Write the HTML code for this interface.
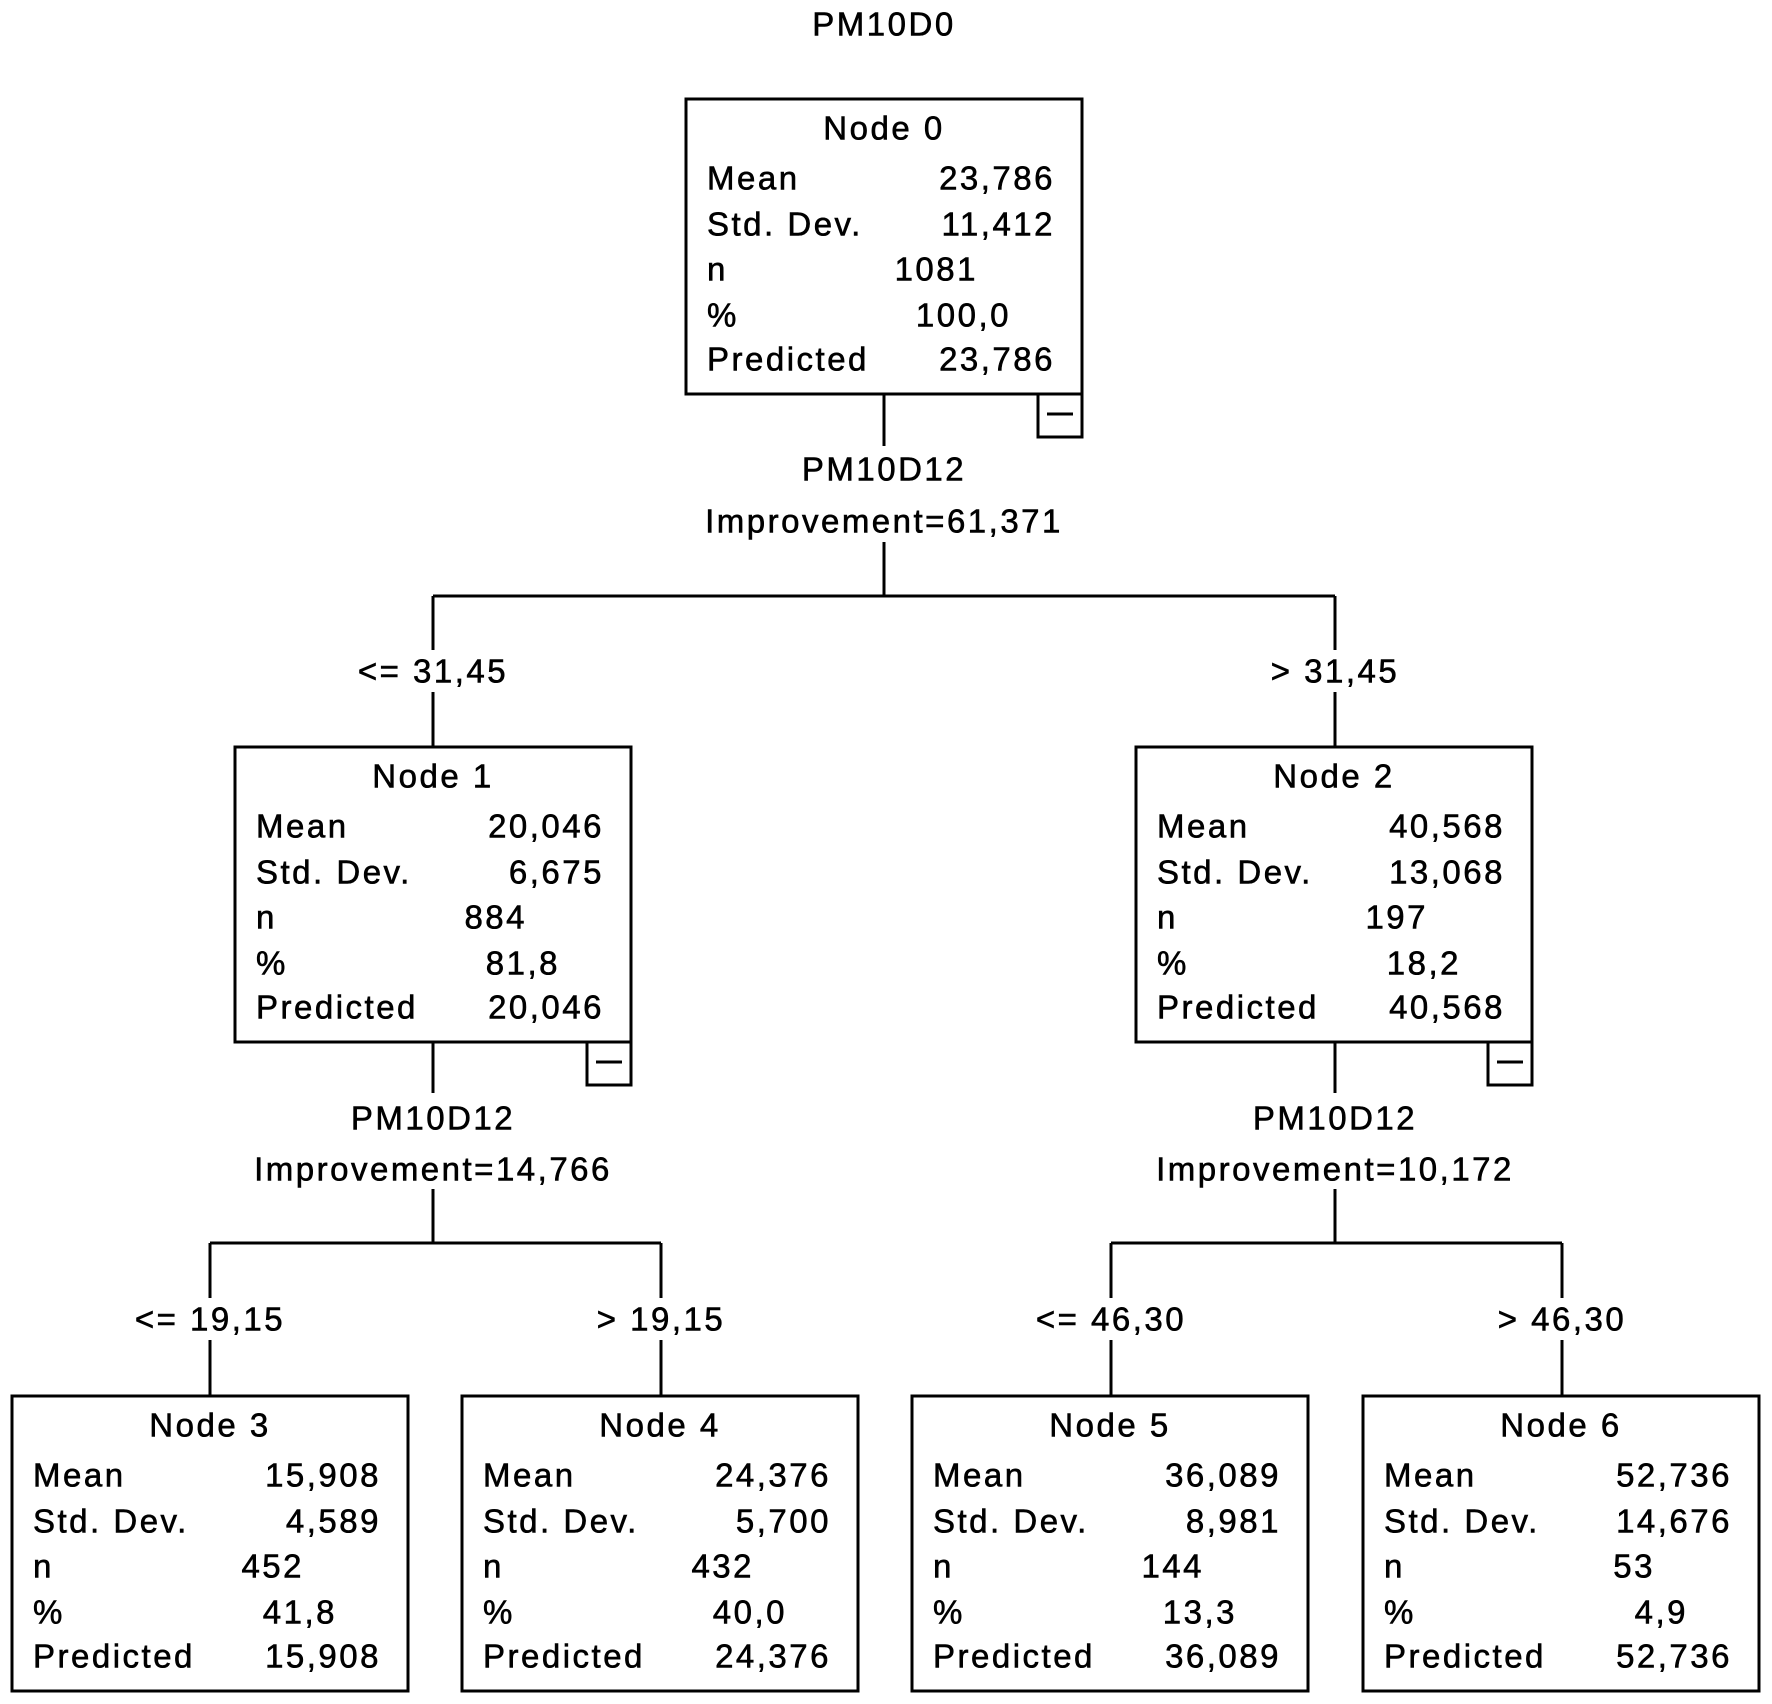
<!DOCTYPE html>
<html><head><meta charset="utf-8"><style>
html,body{margin:0;padding:0;background:#fff;}
svg{display:block;}
text{font-family:"Liberation Sans","DejaVu Sans",sans-serif;font-size:33px;fill:#000;stroke:#000;stroke-width:0.6;letter-spacing:2.5px;dominant-baseline:central;}
.c{text-anchor:middle;}
.e{text-anchor:end;}
</style></head><body>
<svg width="1772" height="1704" viewBox="0 0 1772 1704" xmlns="http://www.w3.org/2000/svg">
<g stroke="#000" stroke-width="3" fill="none">
<line x1="884" y1="394" x2="884" y2="446"/>
<line x1="884" y1="542" x2="884" y2="596"/>
<line x1="433" y1="596" x2="1335" y2="596"/>
<line x1="433" y1="596" x2="433" y2="650"/>
<line x1="1335" y1="596" x2="1335" y2="650"/>
<line x1="433" y1="692" x2="433" y2="747"/>
<line x1="1335" y1="692" x2="1335" y2="747"/>

<line x1="433" y1="1042" x2="433" y2="1093"/>
<line x1="433" y1="1189" x2="433" y2="1243"/>
<line x1="210" y1="1243" x2="661" y2="1243"/>
<line x1="210" y1="1243" x2="210" y2="1298"/>
<line x1="661" y1="1243" x2="661" y2="1298"/>
<line x1="210" y1="1340" x2="210" y2="1396"/>
<line x1="661" y1="1340" x2="661" y2="1396"/>

<line x1="1335" y1="1042" x2="1335" y2="1093"/>
<line x1="1335" y1="1189" x2="1335" y2="1243"/>
<line x1="1111" y1="1243" x2="1562" y2="1243"/>
<line x1="1111" y1="1243" x2="1111" y2="1298"/>
<line x1="1562" y1="1243" x2="1562" y2="1298"/>
<line x1="1111" y1="1340" x2="1111" y2="1396"/>
<line x1="1562" y1="1340" x2="1562" y2="1396"/>

<rect x="686" y="99" width="396" height="295"/>
<rect x="1038" y="394" width="44" height="43"/><line x1="1047" y1="414" x2="1073" y2="414"/>
<rect x="235" y="747" width="396" height="295"/>
<rect x="587" y="1042" width="44" height="43"/><line x1="596" y1="1062" x2="622" y2="1062"/>
<rect x="1136" y="747" width="396" height="295"/>
<rect x="1488" y="1042" width="44" height="43"/><line x1="1497" y1="1062" x2="1523" y2="1062"/>
<rect x="12" y="1396" width="396" height="295"/>
<rect x="462" y="1396" width="396" height="295"/>
<rect x="912" y="1396" width="396" height="295"/>
<rect x="1363" y="1396" width="396" height="295"/>
</g>

<text class="c" x="884" y="24">PM10D0</text>
<text class="c" x="884" y="469">PM10D12</text>
<text class="c" x="884" y="521">Improvement=61,371</text>
<text class="c" x="433" y="671">&lt;= 31,45</text>
<text class="c" x="1335" y="671">&gt; 31,45</text>
<text class="c" x="433" y="1118">PM10D12</text>
<text class="c" x="433" y="1169">Improvement=14,766</text>
<text class="c" x="1335" y="1118">PM10D12</text>
<text class="c" x="1335" y="1169">Improvement=10,172</text>
<text class="c" x="210" y="1319">&lt;= 19,15</text>
<text class="c" x="661" y="1319">&gt; 19,15</text>
<text class="c" x="1111" y="1319">&lt;= 46,30</text>
<text class="c" x="1562" y="1319">&gt; 46,30</text>

<g transform="translate(686,99)">
<text class="c" x="198" y="29">Node 0</text>
<text x="21" y="79">Mean</text><text class="e" x="369" y="79">23,786</text>
<text x="21" y="125">Std. Dev.</text><text class="e" x="369" y="125">11,412</text>
<text x="21" y="170">n</text><text class="e" x="292" y="170">1081</text>
<text x="21" y="216">%</text><text class="e" x="325" y="216">100,0</text>
<text x="21" y="260">Predicted</text><text class="e" x="369" y="260">23,786</text>
</g>
<g transform="translate(235,747)">
<text class="c" x="198" y="29">Node 1</text>
<text x="21" y="79">Mean</text><text class="e" x="369" y="79">20,046</text>
<text x="21" y="125">Std. Dev.</text><text class="e" x="369" y="125">6,675</text>
<text x="21" y="170">n</text><text class="e" x="292" y="170">884</text>
<text x="21" y="216">%</text><text class="e" x="325" y="216">81,8</text>
<text x="21" y="260">Predicted</text><text class="e" x="369" y="260">20,046</text>
</g>
<g transform="translate(1136,747)">
<text class="c" x="198" y="29">Node 2</text>
<text x="21" y="79">Mean</text><text class="e" x="369" y="79">40,568</text>
<text x="21" y="125">Std. Dev.</text><text class="e" x="369" y="125">13,068</text>
<text x="21" y="170">n</text><text class="e" x="292" y="170">197</text>
<text x="21" y="216">%</text><text class="e" x="325" y="216">18,2</text>
<text x="21" y="260">Predicted</text><text class="e" x="369" y="260">40,568</text>
</g>
<g transform="translate(12,1396)">
<text class="c" x="198" y="29">Node 3</text>
<text x="21" y="79">Mean</text><text class="e" x="369" y="79">15,908</text>
<text x="21" y="125">Std. Dev.</text><text class="e" x="369" y="125">4,589</text>
<text x="21" y="170">n</text><text class="e" x="292" y="170">452</text>
<text x="21" y="216">%</text><text class="e" x="325" y="216">41,8</text>
<text x="21" y="260">Predicted</text><text class="e" x="369" y="260">15,908</text>
</g>
<g transform="translate(462,1396)">
<text class="c" x="198" y="29">Node 4</text>
<text x="21" y="79">Mean</text><text class="e" x="369" y="79">24,376</text>
<text x="21" y="125">Std. Dev.</text><text class="e" x="369" y="125">5,700</text>
<text x="21" y="170">n</text><text class="e" x="292" y="170">432</text>
<text x="21" y="216">%</text><text class="e" x="325" y="216">40,0</text>
<text x="21" y="260">Predicted</text><text class="e" x="369" y="260">24,376</text>
</g>
<g transform="translate(912,1396)">
<text class="c" x="198" y="29">Node 5</text>
<text x="21" y="79">Mean</text><text class="e" x="369" y="79">36,089</text>
<text x="21" y="125">Std. Dev.</text><text class="e" x="369" y="125">8,981</text>
<text x="21" y="170">n</text><text class="e" x="292" y="170">144</text>
<text x="21" y="216">%</text><text class="e" x="325" y="216">13,3</text>
<text x="21" y="260">Predicted</text><text class="e" x="369" y="260">36,089</text>
</g>
<g transform="translate(1363,1396)">
<text class="c" x="198" y="29">Node 6</text>
<text x="21" y="79">Mean</text><text class="e" x="369" y="79">52,736</text>
<text x="21" y="125">Std. Dev.</text><text class="e" x="369" y="125">14,676</text>
<text x="21" y="170">n</text><text class="e" x="292" y="170">53</text>
<text x="21" y="216">%</text><text class="e" x="325" y="216">4,9</text>
<text x="21" y="260">Predicted</text><text class="e" x="369" y="260">52,736</text>
</g>
</svg>
</body></html>
